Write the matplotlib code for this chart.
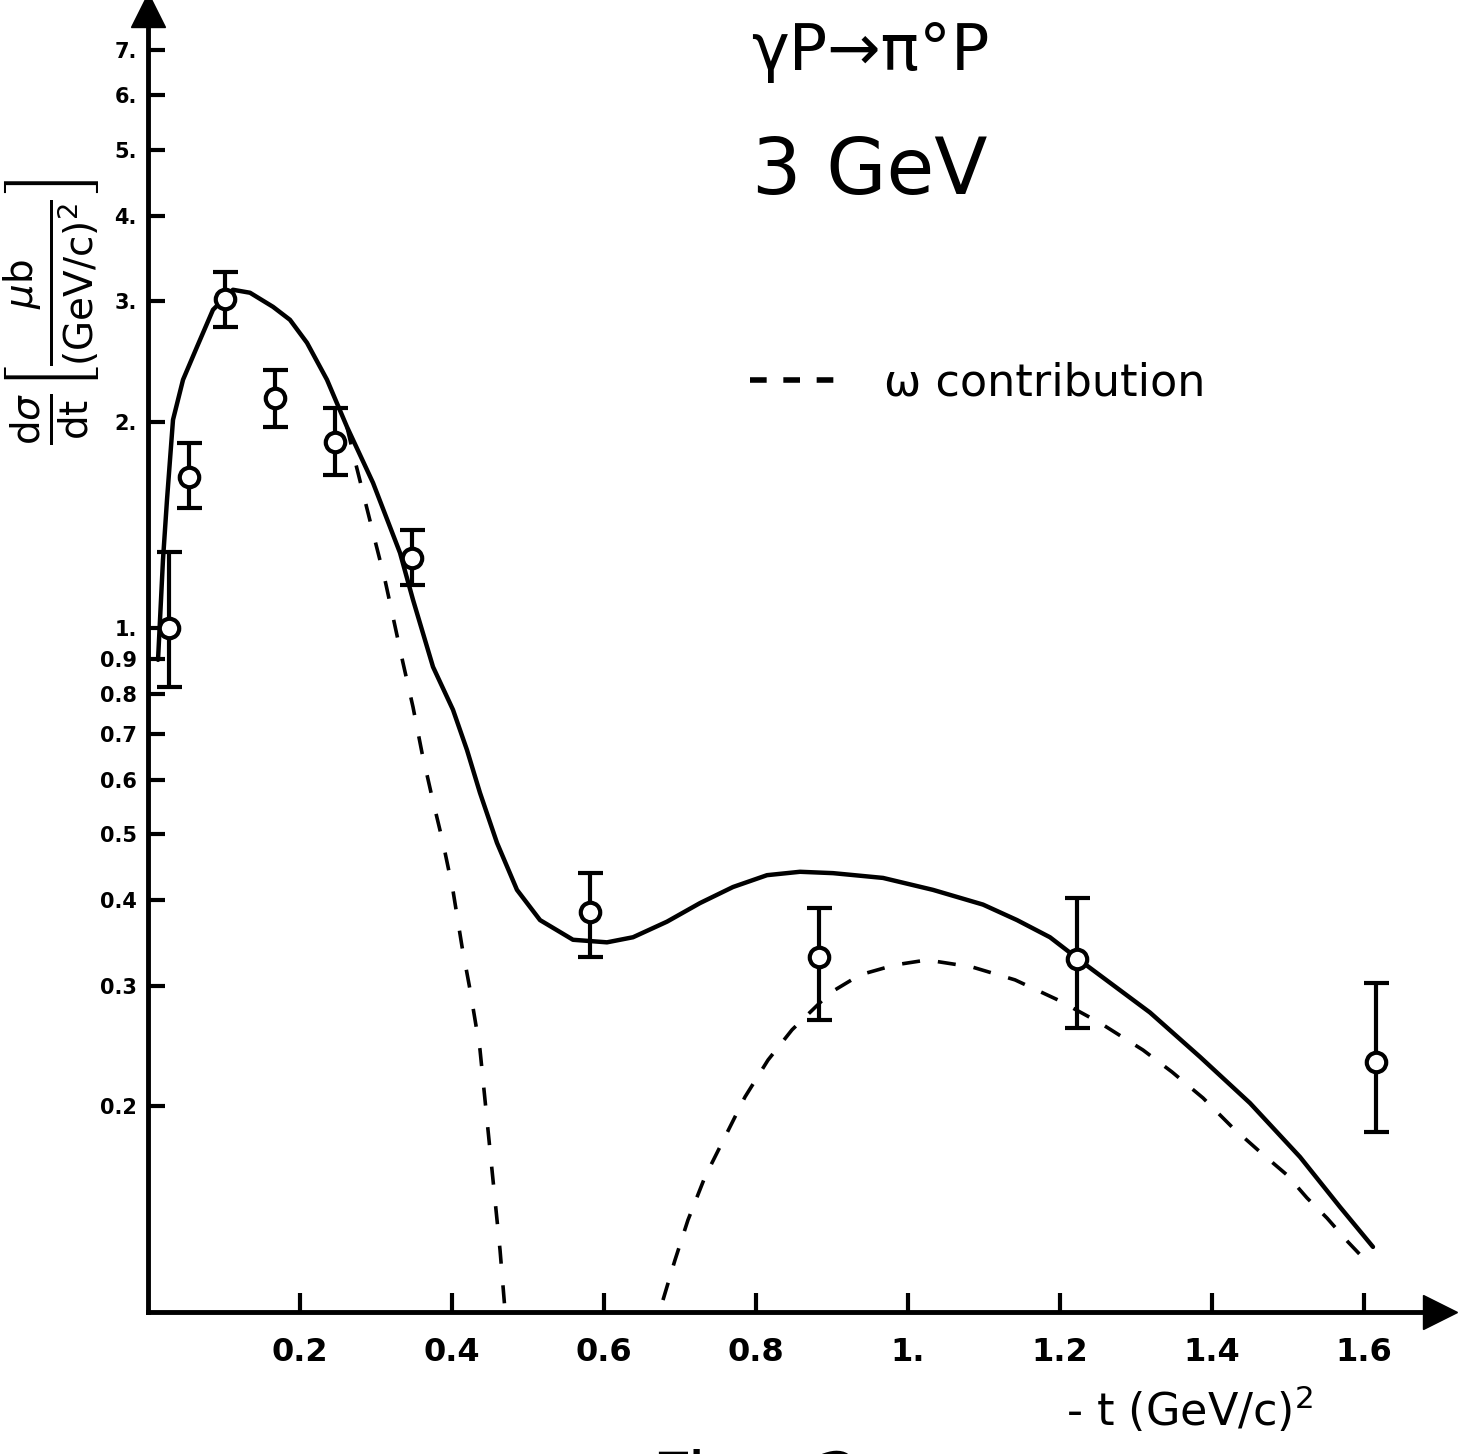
import matplotlib
matplotlib.use("Agg")
import matplotlib.pyplot as plt
from matplotlib.lines import Line2D
from matplotlib.ticker import FixedLocator, NullLocator
import numpy as np

# measured points with error bars
t_pts = [0.028, 0.054, 0.101, 0.167, 0.246, 0.347, 0.582, 0.883, 1.222, 1.616]
sig_pts = [1.00, 1.663, 3.02, 2.169, 1.870, 1.266, 0.384, 0.330, 0.328, 0.232]
sig_hi = [1.29, 1.865, 3.31, 2.384, 2.097, 1.391, 0.438, 0.390, 0.403, 0.303]
sig_lo = [0.82, 1.497, 2.75, 1.967, 1.674, 1.156, 0.330, 0.267, 0.260, 0.183]

# full model curve
t_fit = [0.0132, 0.0197, 0.0250, 0.0329, 0.0461, 0.0645, 0.0855, 0.1118, 0.1342,
         0.1645, 0.1868, 0.2092, 0.2355, 0.2618, 0.2961, 0.3316, 0.3487, 0.3750,
         0.4013, 0.4197, 0.4368, 0.4592, 0.4855, 0.5158, 0.5592, 0.6039, 0.6382,
         0.6829, 0.7263, 0.7697, 0.8145, 0.8579, 0.9013, 0.9671, 1.0329, 1.0987,
         1.1434, 1.1868, 1.2303, 1.3184, 1.3842, 1.4500, 1.5158, 1.5684, 1.6118]
sig_fit = [0.898, 1.257, 1.539, 2.014, 2.305, 2.575, 2.917, 3.120, 3.089,
           2.946, 2.820, 2.610, 2.305, 1.967, 1.629, 1.287, 1.099, 0.877,
           0.759, 0.663, 0.574, 0.485, 0.414, 0.374, 0.350, 0.347, 0.353,
           0.372, 0.396, 0.418, 0.435, 0.440, 0.438, 0.431, 0.414, 0.394,
           0.374, 0.353, 0.324, 0.274, 0.236, 0.202, 0.1685, 0.1424, 0.1245]

# omega contribution, two branches
t_om1 = [0.2618, 0.2697, 0.2961, 0.3118, 0.3355, 0.3487, 0.3605, 0.3737, 0.3882,
         0.4013, 0.4132, 0.4237, 0.4368, 0.4500, 0.4632, 0.4697]
sig_om1 = [1.967, 1.803, 1.377, 1.175, 0.889, 0.766, 0.657, 0.566, 0.485,
           0.413, 0.342, 0.296, 0.242, 0.1725, 0.1232, 0.1007]
t_om2 = [0.6776, 0.6934, 0.7105, 0.7329, 0.7618, 0.7855, 0.8158, 0.8474, 0.8974,
         0.9368, 0.9829, 1.0250, 1.0842, 1.1408, 1.1974, 1.2526, 1.3092, 1.3474,
         1.3882, 1.4263, 1.4632, 1.4987, 1.5250, 1.5513, 1.5789, 1.6079]
sig_om2 = [0.1041, 0.1191, 0.1363, 0.1576, 0.1827, 0.2062, 0.2335, 0.2585, 0.2927,
           0.3110, 0.3216, 0.3270, 0.3194, 0.3058, 0.2858, 0.2646, 0.2415, 0.2243,
           0.2055, 0.1864, 0.1714, 0.1586, 0.1468, 0.1372, 0.1266, 0.1171]

x_ticks = [0.2, 0.4, 0.6, 0.8, 1.0, 1.2, 1.4, 1.6]
x_labels = ["0.2", "0.4", "0.6", "0.8", "1.", "1.2", "1.4", "1.6"]
y_ticks = [0.2, 0.3, 0.4, 0.5, 0.6, 0.7, 0.8, 0.9, 1, 2, 3, 4, 5, 6, 7]
y_labels = ["0.2", "0.3", "0.4", "0.5", "0.6", "0.7", "0.8", "0.9",
            "1.", "2.", "3.", "4.", "5.", "6.", "7."]

fig = plt.figure(figsize=(14.61, 14.54), dpi=100)
ax = fig.add_axes([148/1461, 142/1454, 1292/1461, 1302/1454])
ax.set_yscale("log")
ax.set_xlim(0, 1.7)
ax.set_ylim(0.1, 8.0)

ax.plot(t_fit, sig_fit, color="black", lw=3.2, solid_capstyle="round",
        solid_joinstyle="round")
ax.plot(t_om1, sig_om1, color="black", lw=2.6, linestyle=(0, (5, 6)))
ax.plot(t_om2, sig_om2, color="black", lw=2.6, linestyle=(0, (5, 5)))

y = np.array(sig_pts)
yerr = [y - np.array(sig_lo), np.array(sig_hi) - y]
ax.errorbar(t_pts, sig_pts, yerr=yerr, fmt="o", color="black", mfc="white",
            mec="black", ms=14, mew=3, elinewidth=3, capsize=9, capthick=3,
            zorder=5)

for s in ["top", "right"]:
    ax.spines[s].set_visible(False)
for s in ["left", "bottom"]:
    ax.spines[s].set_linewidth(3.5)

ax.xaxis.set_major_locator(FixedLocator(x_ticks))
ax.set_xticklabels(x_labels, fontsize=23, fontweight="bold")
ax.yaxis.set_major_locator(FixedLocator(y_ticks))
ax.yaxis.set_minor_locator(NullLocator())
ax.set_yticklabels(y_labels, fontsize=15, fontweight="bold")
ax.tick_params(axis="x", direction="in", length=14, width=3, pad=18)
ax.tick_params(axis="y", direction="in", length=12, width=3, pad=8)

# axis arrow heads
ax.plot([0], [1], marker="^", ms=24, color="black", transform=ax.transAxes, clip_on=False)
ax.plot([1], [0], marker=">", ms=24, color="black", transform=ax.transAxes, clip_on=False)

fig.text(870/1461, 1 - 52/1454, "γP→π°P", fontsize=46, ha="center", va="center")
fig.text(870/1461, 1 - 172/1454, "3 GeV", fontsize=56, ha="center", va="center")

leg = fig.legend(handles=[Line2D([], [], color="black", lw=4, linestyle=(0, (3, 3)))],
                 labels=["ω contribution"], loc="center left",
                 bbox_to_anchor=(728/1461, 1 - 383/1454), frameon=False,
                 fontsize=32, handlelength=2.0, handletextpad=1.0, borderpad=0)

fig.text(52/1461, 1 - 312/1454,
         r"$\frac{\mathrm{d}\sigma}{\mathrm{dt}}\left[\frac{\mu\mathrm{b}}{\mathrm{(GeV/c)}^2}\right]$",
         fontsize=40, rotation=90, ha="center", va="center")
fig.text(1190/1461, 1 - 1410/1454, r"- t (GeV/c)$^2$", fontsize=32,
         ha="center", va="center")
fig.text(652/1461, 5/1454, "Fig.  2", fontsize=50, ha="left", va="top")

fig.savefig("out.png", dpi=100)
